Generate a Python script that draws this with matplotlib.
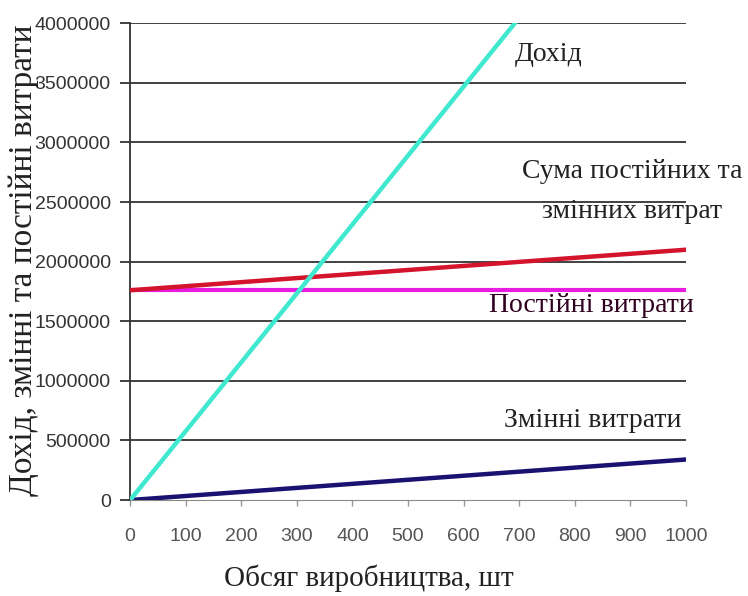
import matplotlib.pyplot as plt

# обсяг виробництва, шт
volume = [0, 100, 200, 300, 400, 500, 600, 700, 800, 900, 1000]
revenue = [0, 578000, 1156000, 1734000, 2312000, 2890000, 3468000, 4046000,
           4624000, 5202000, 5780000]
fixed_costs = [1760000] * 11
variable_costs = [0, 34000, 68000, 102000, 136000, 170000, 204000, 238000,
                  272000, 306000, 340000]
total_costs = [1760000, 1794000, 1828000, 1862000, 1896000, 1930000, 1964000,
               1998000, 2032000, 2066000, 2100000]

y_ticks = [0, 500000, 1000000, 1500000, 2000000, 2500000, 3000000, 3500000, 4000000]
x_ticks = [0, 100, 200, 300, 400, 500, 600, 700, 800, 900, 1000]

serif = "Liberation Serif"
sans = "Liberation Sans"

fig = plt.figure(figsize=(7.48, 5.96), dpi=100)
ax = fig.add_axes([0.174, 0.161, 0.743, 0.8])

for y in y_ticks[1:]:
    ax.axhline(y, color="#333333", lw=1.3, zorder=1)

ax.plot(volume, fixed_costs, color="#e81ce0", lw=3, zorder=3)
ax.plot(volume, total_costs, color="#d3142c", lw=3.2, zorder=4)
ax.plot(volume, variable_costs, color="#1a1170", lw=3.2, zorder=4)
ax.plot(volume, revenue, color="#40e8d0", lw=3.2, zorder=5, clip_on=True)

ax.set_xlim(0, 1000)
ax.set_ylim(0, 4000000)
ax.set_xticks(x_ticks)
ax.set_yticks(y_ticks)
ax.set_xticklabels([str(v) for v in x_ticks], fontfamily=sans, fontsize=14,
                   color="#555555")
ax.set_yticklabels([str(v) for v in y_ticks], fontfamily=sans, fontsize=14,
                   color="#333333")
ax.tick_params(axis="y", direction="out", length=7, width=1.3, color="#333333", pad=7)
ax.tick_params(axis="x", direction="out", length=4, width=1, color="#999999", pad=16)

for side in ("top", "right"):
    ax.spines[side].set_visible(False)
ax.spines["left"].set_color("#333333")
ax.spines["left"].set_linewidth(1.3)
ax.spines["bottom"].set_color("#888888")

# підписи ліній
ax.text(692, 3740000, "Дохід", fontfamily=serif, fontsize=20, color="#222222",
        va="center")
ax.text(903, 2590000, "Сума постійних та\nзмінних витрат", fontfamily=serif,
        fontsize=20, color="#222222", ha="center", va="center",
        linespacing=1.8, clip_on=False)
ax.text(830, 1630000, "Постійні витрати", fontfamily=serif, fontsize=20,
        color="#300020", ha="center", va="center", clip_on=False)
ax.text(832, 670000, "Змінні витрати", fontfamily=serif, fontsize=20,
        color="#222222", ha="center", va="center", clip_on=False)

fig.text(0.032, 0.564, "Дохід, змінні та постійні витрати", rotation=90,
         fontfamily=serif, fontsize=24, color="#222222", ha="center", va="center")
fig.text(0.493, 0.03, "Обсяг виробництва, шт", fontfamily=serif, fontsize=21,
         color="#222222", ha="center", va="center")

fig.savefig("out.png", dpi=100, facecolor="white")
